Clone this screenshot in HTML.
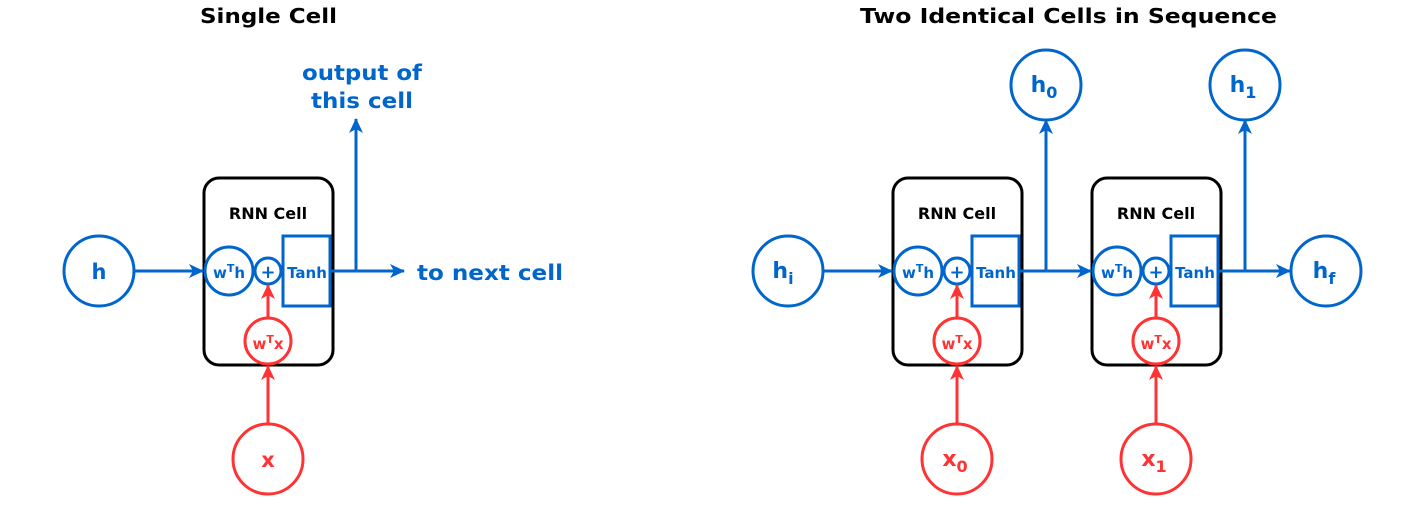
<!DOCTYPE html>
<html><head><meta charset="utf-8"><style>
html,body{margin:0;padding:0;background:#fff;}
svg{display:block;font-family:"DejaVu Sans","Liberation Sans",sans-serif;font-weight:bold;}
</style></head><body>
<svg width="1426" height="524" viewBox="0 0 1426 524" xmlns="http://www.w3.org/2000/svg">
<defs>
<marker id="ab" markerWidth="15" markerHeight="14" refX="14" refY="7" orient="auto" markerUnits="userSpaceOnUse"><path d="M0,0 L15,7 L0,14 L4,7 Z" fill="#0066CC"/></marker>
<marker id="ar" markerWidth="15" markerHeight="14" refX="14" refY="7" orient="auto" markerUnits="userSpaceOnUse"><path d="M0,0 L15,7 L0,14 L4,7 Z" fill="#FF3333"/></marker>
<g id="cell">
<rect x="204" y="178" width="129" height="187" rx="15" fill="#fff" stroke="#000" stroke-width="3"/>
<text x="268" y="219" font-size="16" text-anchor="middle" fill="#000">RNN Cell</text>
<circle cx="229" cy="271" r="24" fill="#fff" stroke="#0066CC" stroke-width="3"/>
<text x="229" y="278" font-size="15" text-anchor="middle" fill="#0066CC">w<tspan dy="-6" font-size="11">T</tspan><tspan dy="6">h</tspan></text>
<circle cx="268" cy="271" r="13" fill="#fff" stroke="#0066CC" stroke-width="3"/>
<text x="268" y="278" font-size="18" text-anchor="middle" fill="#0066CC">+</text>
<rect x="283" y="236" width="47" height="70" fill="#fff" stroke="#0066CC" stroke-width="3"/>
<text x="307" y="278" font-size="15" text-anchor="middle" fill="#0066CC">Tanh</text>
<circle cx="268" cy="341" r="23" fill="#fff" stroke="#FF3333" stroke-width="3"/>
<text x="268" y="349" font-size="15" text-anchor="middle" fill="#FF3333">w<tspan dy="-6" font-size="11">T</tspan><tspan dy="6">x</tspan></text>
<line x1="268" y1="318" x2="268" y2="285" stroke="#FF3333" stroke-width="3" marker-end="url(#ar)"/>
<line x1="268" y1="424" x2="268" y2="366" stroke="#FF3333" stroke-width="3" marker-end="url(#ar)"/>
</g>
</defs>
<text x="200" y="23" font-size="20" textLength="137" lengthAdjust="spacingAndGlyphs" fill="#000">Single Cell</text>
<text x="860" y="23" font-size="20" textLength="417" lengthAdjust="spacingAndGlyphs" fill="#000">Two Identical Cells in Sequence</text>

<!-- single -->
<use href="#cell"/>
<circle cx="99" cy="271" r="35" fill="#fff" stroke="#0066CC" stroke-width="3"/>
<text x="99" y="279" font-size="21" text-anchor="middle" fill="#0066CC">h</text>
<line x1="134" y1="271" x2="203" y2="271" stroke="#0066CC" stroke-width="3" marker-end="url(#ab)"/>
<line x1="331" y1="271" x2="404" y2="271" stroke="#0066CC" stroke-width="3" marker-end="url(#ab)"/>
<line x1="356" y1="271" x2="356" y2="119" stroke="#0066CC" stroke-width="3" marker-end="url(#ab)"/>
<text x="302" y="80" font-size="21" textLength="120" lengthAdjust="spacingAndGlyphs" fill="#0066CC">output of</text>
<text x="311" y="108" font-size="21" textLength="102" lengthAdjust="spacingAndGlyphs" fill="#0066CC">this cell</text>
<text x="417" y="280" font-size="21" textLength="146" lengthAdjust="spacingAndGlyphs" fill="#0066CC">to next cell</text>
<circle cx="268" cy="459" r="35" fill="#fff" stroke="#FF3333" stroke-width="3"/>
<text x="268" y="467" font-size="21" text-anchor="middle" fill="#FF3333">x</text>

<!-- sequence -->
<use href="#cell" transform="translate(689,0)"/>
<use href="#cell" transform="translate(888,0)"/>
<circle cx="788" cy="271" r="35" fill="#fff" stroke="#0066CC" stroke-width="3"/>
<text x="783" y="278" font-size="22" text-anchor="middle" fill="#0066CC">h<tspan dy="6" font-size="16">i</tspan></text>
<line x1="823" y1="271" x2="892" y2="271" stroke="#0066CC" stroke-width="3" marker-end="url(#ab)"/>
<line x1="1020" y1="271" x2="1091" y2="271" stroke="#0066CC" stroke-width="3" marker-end="url(#ab)"/>
<line x1="1046" y1="271" x2="1046" y2="120" stroke="#0066CC" stroke-width="3" marker-end="url(#ab)"/>
<circle cx="1046" cy="85" r="35" fill="#fff" stroke="#0066CC" stroke-width="3"/>
<text x="1044" y="92" font-size="22" text-anchor="middle" fill="#0066CC">h<tspan dy="6" font-size="16">0</tspan></text>
<line x1="1219" y1="271" x2="1290" y2="271" stroke="#0066CC" stroke-width="3" marker-end="url(#ab)"/>
<line x1="1245" y1="271" x2="1245" y2="120" stroke="#0066CC" stroke-width="3" marker-end="url(#ab)"/>
<circle cx="1245" cy="85" r="35" fill="#fff" stroke="#0066CC" stroke-width="3"/>
<text x="1243" y="92" font-size="22" text-anchor="middle" fill="#0066CC">h<tspan dy="6" font-size="16">1</tspan></text>
<circle cx="1326" cy="271" r="35" fill="#fff" stroke="#0066CC" stroke-width="3"/>
<text x="1324" y="278" font-size="22" text-anchor="middle" fill="#0066CC">h<tspan dy="6" font-size="16">f</tspan></text>
<circle cx="957" cy="459" r="35" fill="#fff" stroke="#FF3333" stroke-width="3"/>
<text x="955" y="466" font-size="22" text-anchor="middle" fill="#FF3333">x<tspan dy="6" font-size="16">0</tspan></text>
<circle cx="1156" cy="459" r="35" fill="#fff" stroke="#FF3333" stroke-width="3"/>
<text x="1154" y="466" font-size="22" text-anchor="middle" fill="#FF3333">x<tspan dy="6" font-size="16">1</tspan></text>
</svg>
</body></html>
